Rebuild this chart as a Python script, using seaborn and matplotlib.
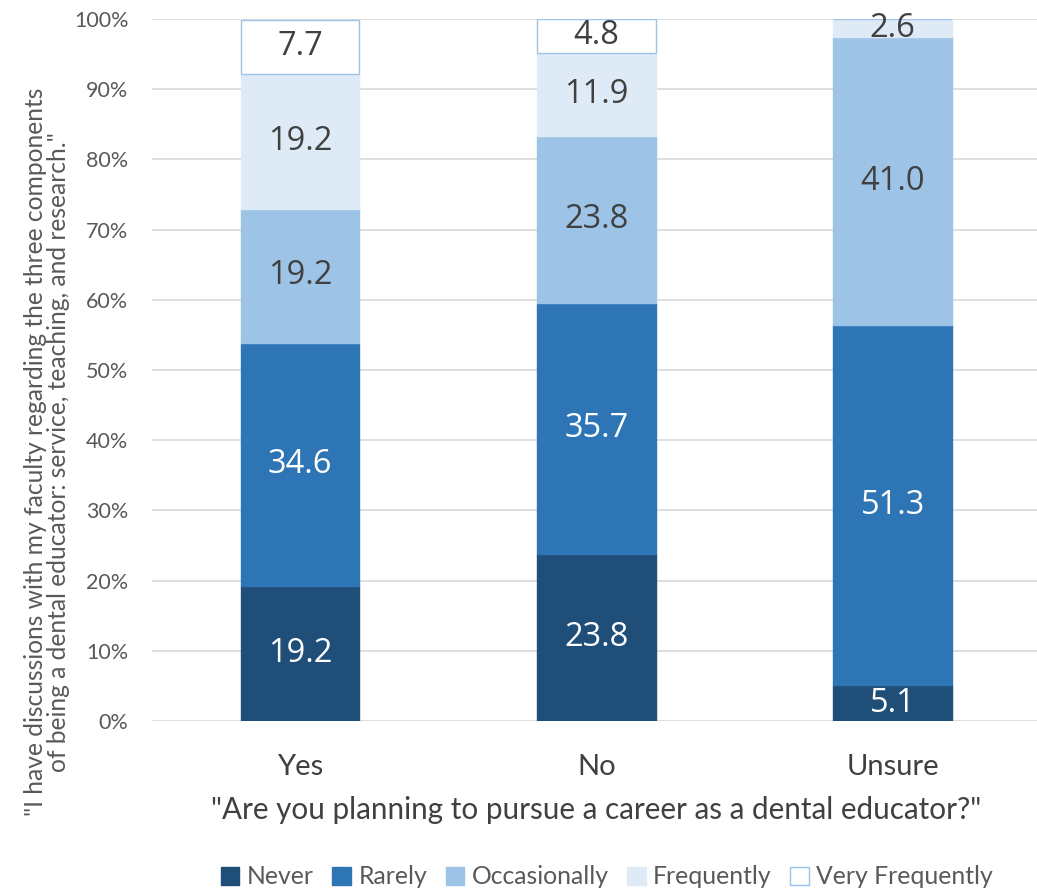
import numpy as np
import pandas as pd
import matplotlib
matplotlib.use("Agg")
import matplotlib.pyplot as plt
import seaborn as sns
from matplotlib.patches import Patch

categories = ["Yes", "No", "Unsure"]
never = [19.2, 23.8, 5.1]
rarely = [34.6, 35.7, 51.3]
occasionally = [19.2, 23.8, 41.0]
frequently = [19.2, 11.9, 2.6]
very_frequently = [7.7, 4.8, 0.0]

series_names = ["Never", "Rarely", "Occasionally", "Frequently", "Very Frequently"]
series_values = [never, rarely, occasionally, frequently, very_frequently]
fills = ["#1F4E79", "#2E75B6", "#9DC3E6", "#DEEBF7", "#FFFFFF"]
edges = ["#1F4E79", "#2E75B6", "#9DC3E6", "#DEEBF7", "#9DC3E6"]
label_colors = ["white", "white", "#404040", "#404040", "#404040"]

sns.set_theme(style="white")
plt.rcParams["font.family"] = ["Lato", "DejaVu Sans"]
value_font = ["Open Sans", "DejaVu Sans"]

fig = plt.figure(figsize=(10.37, 8.93), dpi=100)
ax = fig.add_axes([0.1466, 1 - 721 / 893, 0.857, 702 / 893])

bottoms = np.zeros(len(categories))
for name, vals, fc, ec, lc in zip(series_names, series_values, fills, edges, label_colors):
    vals = np.array(vals, dtype=float)
    df = pd.DataFrame({"cat": categories, "val": vals})
    sns.barplot(data=df, x="cat", y="val", order=categories, bottom=bottoms,
                color=fc, edgecolor=ec, linewidth=1, width=0.4, saturation=1,
                ax=ax, zorder=3)
    for i, v in enumerate(vals):
        if v <= 0:
            continue
        y = bottoms[i] + v / 2
        ax.text(i, y, f"{v:.1f}", ha="center", va="center", fontsize=23.5,
                color=lc, family=value_font, zorder=5)
    bottoms = bottoms + vals

ax.set_ylim(0, 100)
ax.set_xlim(-0.5, 2.5)
ax.set_yticks(np.arange(0, 101, 10))
ax.set_yticklabels([f"{t}%" for t in range(0, 101, 10)])
ax.yaxis.grid(True, color="#D9D9D9", linewidth=1.2, zorder=0)
ax.set_axisbelow(True)
for s in ax.spines.values():
    s.set_visible(False)
ax.tick_params(axis="y", length=0, labelsize=15.5, labelcolor="#595959", pad=17)
ax.tick_params(axis="x", length=0, labelsize=21, labelcolor="#404040", pad=24)

ax.set_xlabel('"Are you planning to pursue a career as a dental educator?"',
              fontsize=21.3, color="#404040", labelpad=11)
ax.set_ylabel('"I have discussions with my faculty regarding the three components\n'
              'of being a dental educator: service, teaching, and research."',
              fontsize=17.7, color="#595959", multialignment="center",
              linespacing=1.0)
ax.yaxis.set_label_coords(-0.092, 0.383)

handles = [Patch(facecolor=fc, edgecolor=ec, linewidth=1) for fc, ec in zip(fills, edges)]
fig.legend(handles, series_names, loc="center", bbox_to_anchor=(607 / 1037, 1 - 877 / 893),
           ncol=5, frameon=False, fontsize=17.8, labelcolor="#595959",
           handlelength=0.75, handleheight=0.75, handletextpad=0.3, columnspacing=0.75)

fig.savefig("out.png", dpi=100)
